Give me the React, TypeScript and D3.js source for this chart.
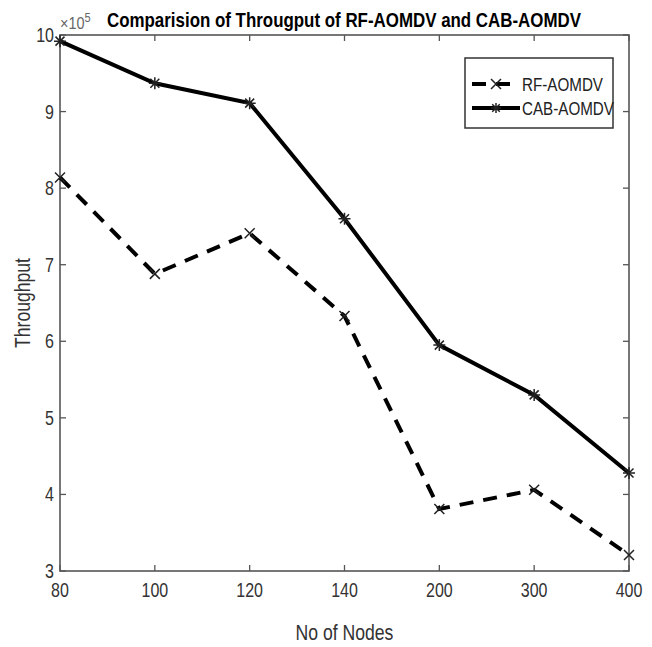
import React, { useEffect, useRef } from 'react';
import * as d3 from 'd3';

const nodes = ['80', '100', '120', '140', '200', '300', '400'];
const rfAomdv = [8.14, 6.88, 7.41, 6.33, 3.81, 4.06, 3.21];
const cabAomdv = [9.92, 9.37, 9.11, 7.60, 5.95, 5.30, 4.28];
const yTicks = [3, 4, 5, 6, 7, 8, 9, 10];

const W = 652;
const H = 647;

const App: React.FC = () => {
  const ref = useRef<SVGSVGElement>(null);

  useEffect(() => {
    const svg = d3.select(ref.current);
    svg.selectAll('*').remove();

    const margin = { top: 35, right: 23, bottom: 76, left: 60 };
    const width = W - margin.left - margin.right;
    const height = H - margin.top - margin.bottom;
    const font = 'Liberation Sans, Arial, sans-serif';
    const axisColor = '#555';
    const sx = 0.8; // the source font is narrow

    const x = d3.scalePoint().domain(nodes).range([0, width]);
    const y = d3.scaleLinear().domain([3, 10]).range([height, 0]);

    const g = svg.append('g').attr('transform', `translate(${margin.left},${margin.top})`);

    const label = (parent: any, tx: number, ty: number, txt: string, size: number, anchor: string, rot = 0) =>
      parent.append('text')
        .attr('transform', `translate(${tx},${ty}) rotate(${rot}) scale(${sx},1)`)
        .attr('text-anchor', anchor)
        .attr('font-family', font)
        .attr('font-size', size)
        .attr('fill', '#333')
        .text(txt);

    // box
    g.append('rect')
      .attr('width', width)
      .attr('height', height)
      .attr('fill', 'none')
      .attr('stroke', axisColor)
      .attr('stroke-width', 1.6);

    // ticks, inward on all four sides (matlab box)
    const tickLen = 6;
    nodes.forEach(n => {
      const xx = x(n)!;
      g.append('line').attr('x1', xx).attr('x2', xx).attr('y1', height).attr('y2', height - tickLen)
        .attr('stroke', axisColor).attr('stroke-width', 1.3);
      g.append('line').attr('x1', xx).attr('x2', xx).attr('y1', 0).attr('y2', tickLen)
        .attr('stroke', axisColor).attr('stroke-width', 1.3);
      label(g, xx, height + 26, n, 20, 'middle');
    });
    yTicks.forEach(t => {
      const yy = y(t);
      g.append('line').attr('x1', 0).attr('x2', tickLen).attr('y1', yy).attr('y2', yy)
        .attr('stroke', axisColor).attr('stroke-width', 1.3);
      g.append('line').attr('x1', width).attr('x2', width - tickLen).attr('y1', yy).attr('y2', yy)
        .attr('stroke', axisColor).attr('stroke-width', 1.3);
      label(g, -6, yy + 7, String(t), 20, 'end');
    });

    // exponent label
    const ex = g.append('text')
      .attr('transform', `translate(0,-6) scale(0.85,1)`)
      .attr('font-family', font)
      .attr('font-size', 17)
      .attr('fill', '#666');
    ex.append('tspan').text('×10');
    ex.append('tspan').attr('dy', -7).attr('font-size', 13).text('5');

    const line = d3.line<number>()
      .x((_, i) => x(nodes[i])!)
      .y(d => y(d));

    g.append('path')
      .datum(rfAomdv)
      .attr('d', line)
      .attr('fill', 'none')
      .attr('stroke', '#000')
      .attr('stroke-width', 4)
      .attr('stroke-dasharray', '14,10');

    g.append('path')
      .datum(cabAomdv)
      .attr('d', line)
      .attr('fill', 'none')
      .attr('stroke', '#000')
      .attr('stroke-width', 4);

    const cross = (sel: any, cx: number, cy: number, s: number) => {
      sel.append('path')
        .attr('d', `M${cx - s},${cy - s}L${cx + s},${cy + s}M${cx - s},${cy + s}L${cx + s},${cy - s}`)
        .attr('stroke', '#222')
        .attr('stroke-width', 1.5)
        .attr('fill', 'none');
    };
    const star = (sel: any, cx: number, cy: number, s: number) => {
      cross(sel, cx, cy, s * 0.75);
      sel.append('path')
        .attr('d', `M${cx - s},${cy}L${cx + s},${cy}M${cx},${cy - s}L${cx},${cy + s}`)
        .attr('stroke', '#222')
        .attr('stroke-width', 1.5);
    };

    const markers = g.append('g');
    rfAomdv.forEach((v, i) => cross(markers, x(nodes[i])!, y(v), 5));
    cabAomdv.forEach((v, i) => star(markers, x(nodes[i])!, y(v), 6));

    // legend
    const lg = svg.append('g').attr('transform', 'translate(465,58)');
    lg.append('rect')
      .attr('width', 148)
      .attr('height', 70)
      .attr('fill', '#fff')
      .attr('stroke', '#333')
      .attr('stroke-width', 1.5);
    const rows = [
      { name: 'RF-AOMDV', dash: '14,10', mark: cross, yy: 26 },
      { name: 'CAB-AOMDV', dash: null, mark: star, yy: 50 },
    ];
    rows.forEach(r => {
      lg.append('line')
        .attr('x1', 7).attr('x2', 55)
        .attr('y1', r.yy).attr('y2', r.yy)
        .attr('stroke', '#000')
        .attr('stroke-width', 4)
        .attr('stroke-dasharray', r.dash ?? null);
      r.mark(lg, 31, r.yy, 5);
      label(lg, 57, r.yy + 7, r.name, 19, 'start').attr('fill', '#222');
    });

    // title
    svg.append('text')
      .attr('x', 107)
      .attr('y', 27)
      .attr('font-family', font)
      .attr('font-size', 21)
      .attr('font-weight', 'bold')
      .attr('textLength', 474)
      .attr('lengthAdjust', 'spacingAndGlyphs')
      .attr('fill', '#000')
      .text('Comparision of Througput of RF-AOMDV and CAB-AOMDV');

    // axis titles
    label(svg, margin.left + width / 2, 640, 'No of Nodes', 22, 'middle');
    label(svg, 30, margin.top + height / 2, 'Throughput', 22, 'middle', -90);
  }, []);

  return (
    <svg
      ref={ref}
      width={W}
      height={H}
      style={{ position: 'absolute', left: 0, top: 0, background: '#fff' }}
    />
  );
};

export default App;
